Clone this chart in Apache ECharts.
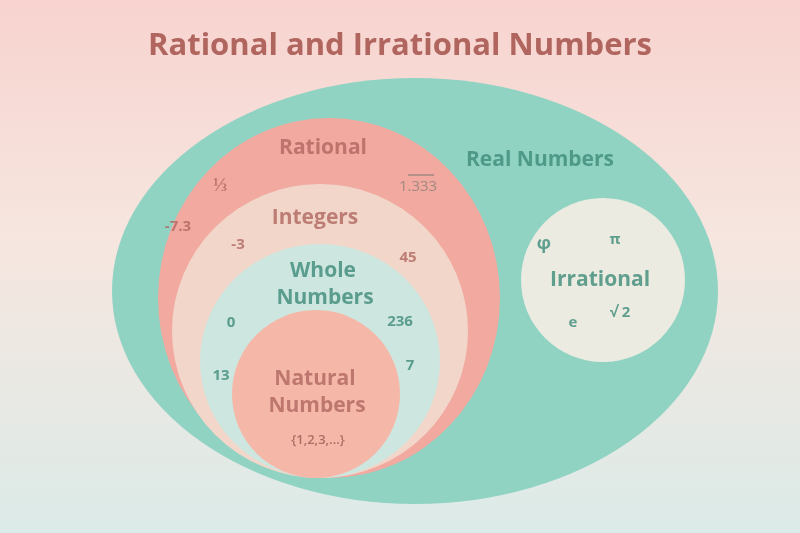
<!DOCTYPE html>
<html><head><meta charset="utf-8">
<script src="https://cdn.jsdelivr.net/npm/echarts@6/dist/echarts.min.js"></script>
<style>html,body{margin:0;padding:0}#c{width:800px;height:533px}</style>
</head><body><div id="c"></div>
<script>
// sets: [cx, cy, rx, ry]
const setNames = ['Real', 'Rational', 'Integers', 'Whole', 'Natural', 'Irrational'];
const setShapes = [
  [415, 291, 303, 213],
  [329, 298, 171, 180],
  [320, 331, 148, 147],
  [320, 361, 120, 117],
  [316, 394, 84, 84],
  [603, 280, 82, 82]
];
const setColors = ['#90d3c3', '#f2a9a0', '#f1d6c9', '#cde6df', '#f5b8a8', '#ecebe1'];
// labels
const labelTexts = ['Real Numbers','Rational','⅓','1.333','-7.3','Integers','-3','45','Whole','Numbers','0','236','7','13','Natural','Numbers','{1,2,3,...}','φ','π','Irrational','e','√ 2'];
const labelPos = [[540,160],[323,148],[220,186],[418,187],[178,227],[315,218],[238,245],[408,258],[323,271],[325,298],[231,323],[400,322],[410,366],[221,376],[315,379],[317,406],[318,440],[544,244],[615,240],[600,280],[573,323],[620,313]];
const labelKinds = ['tealB','roseB','roseL','grey','rose','roseB','rose','rose','tealB','tealB','teal','teal','teal','teal','roseB','roseB','roseS','tealL','teal','tealB','teal','teal'];
const overline = [[408,175,434,175]];

const kindStyle = {
  tealB:{color:'#3d8b79',fontSize:21,fontWeight:'bold'},
  roseB:{color:'#b0665f',fontSize:21,fontWeight:'bold'},
  rose:{color:'#b0665f',fontSize:15,fontWeight:'bold'},
  roseL:{color:'#b0665f',fontSize:19,fontWeight:'bold'},
  teal:{color:'#3d8b79',fontSize:15,fontWeight:'bold'},
  tealL:{color:'#3d8b79',fontSize:18,fontWeight:'bold'},
  roseS:{color:'#9a5a54',fontSize:13,fontWeight:'600'},
  grey:{color:'#8d817b',fontSize:15,fontWeight:'normal'}
};
const chart = echarts.init(document.getElementById('c'));
chart.setOption({
  backgroundColor: new echarts.graphic.LinearGradient(0,0,0,1,[
    {offset:0,color:'#f8d3cf'},{offset:0.45,color:'#f6e6df'},{offset:1,color:'#dcebe8'}]),
  title:{text:'Rational and Irrational Numbers',left:'center',top:26,
    textStyle:{color:'#b0665f',fontSize:31,fontWeight:'bold',fontFamily:'Open Sans'}},
  grid:{left:0,right:0,top:0,bottom:0},
  xAxis:{type:'value',min:0,max:800,show:false},
  yAxis:{type:'value',min:0,max:533,inverse:true,show:false},
  series:[
    {type:'custom',silent:true,data:setShapes.map((s,i)=>[...s,i]),
     renderItem:(p,api)=>{
       const c=api.coord([api.value(0),api.value(1)]);
       const sz=api.size([api.value(2),api.value(3)]);
       return {type:'circle',x:c[0],y:c[1],scaleX:sz[0],scaleY:sz[1],
         shape:{cx:0,cy:0,r:1},style:{fill:setColors[api.value(4)]}};
     }},
    {type:'custom',silent:true,data:overline,
     renderItem:(p,api)=>{
       const a=api.coord([api.value(0),api.value(1)]),b=api.coord([api.value(2),api.value(3)]);
       return {type:'line',shape:{x1:a[0],y1:a[1],x2:b[0],y2:b[1]},style:{stroke:'#8d817b',lineWidth:1.2}};
     }},
    {type:'scatter',symbolSize:0,silent:true,
     data:labelTexts.map((t,i)=>({value:labelPos[i],
       label:Object.assign({show:true,position:'inside',formatter:t,fontFamily:'Open Sans'},kindStyle[labelKinds[i]])}))}
  ]
});
</script></body></html>
